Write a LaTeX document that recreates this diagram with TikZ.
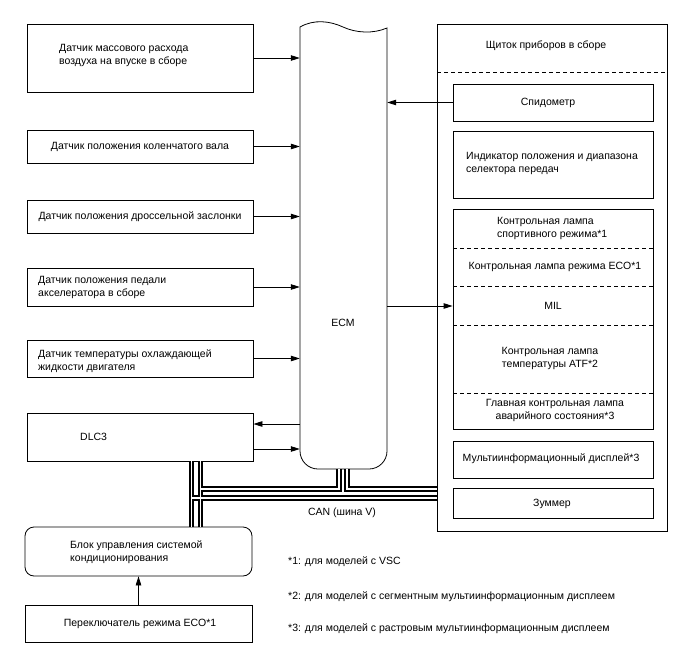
\documentclass[tikz,border=0pt]{standalone}
\usepackage{fontspec}
\setmainfont{Liberation Sans}
\usetikzlibrary{arrows.meta,calc}
\begin{document}
\begin{tikzpicture}[x=1pt,y=-1pt,
  box/.style={draw, line width=0.8pt, inner sep=0pt},
  txt/.style={font=\fontsize{10.5}{13}\selectfont, inner sep=0pt, align=left},
  ctxt/.style={font=\fontsize{10.5}{13}\selectfont, inner sep=0pt, align=center},
  arr/.style={line width=0.8pt, -{Triangle[length=9pt,width=5.5pt]}},
  dsh/.style={line width=0.7pt, dash pattern=on 4pt off 3pt}]
\useasboundingbox[fill=white] (0,0) rectangle (688,658);

% left boxes
\node[box, minimum width=226, minimum height=68] (b1) at (140,58) {};
\node[box, minimum width=226, minimum height=33] (b2) at (140,146.5) {};
\node[box, minimum width=226, minimum height=33] (b3) at (140,216.5) {};
\node[box, minimum width=226, minimum height=38] (b4) at (140,287) {};
\node[box, minimum width=226, minimum height=37] (b5) at (140,358.5) {};
\node[box, minimum width=226, minimum height=48] (dlc) at (140,437) {};
\node[box, rounded corners=9pt, minimum width=227, minimum height=49] (ac) at (138.5,551.5) {};
\node[box, minimum width=227, minimum height=37] (eco) at (138.5,623.5) {};

\node[txt, anchor=west] (t1) at (59,55.5) {Датчик массового расхода\\воздуха на впуске в сборе};
\node[ctxt] (t2) at (140,146.5) {Датчик положения коленчатого вала};
\node[ctxt] (t3) at (140,216.5) {Датчик положения дроссельной заслонки};
\node[txt, anchor=west] (t4) at (38,287.5) {Датчик положения педали\\акселератора в сборе};
\node[txt, anchor=west] (t5) at (38,361.5) {Датчик температуры охлаждающей\\жидкости двигателя};
\node[txt, anchor=west] (t6) at (80,437) {DLC3};
\node[txt, anchor=west] (t7) at (70,552.5) {Блок управления системой\\кондиционирования};
\node[ctxt] (t8) at (140,624) {Переключатель режима ECO*1};

% ECM
\node[inner sep=0pt, minimum width=87, minimum height=447] (ecm) at (343.5,245.5) {};
\draw[line width=0.8pt] (300,27) .. controls (314,19) and (330,21) .. (343,27)
  .. controls (356,33) and (373,34) .. (387,28) -- (387,451)
  arc[start angle=0, end angle=90, radius=18] -- (318,469)
  arc[start angle=90, end angle=180, radius=18] -- cycle;
\node[ctxt] (ecmlbl) at (343,323) {ECM};

% right panel
\node[box, minimum width=230, minimum height=507] (panel) at (552,277.5) {};
\node[ctxt] (title) at (546,46) {Щиток приборов в сборе};
\coordinate (dl) at (437,72);
\coordinate (dr) at (667,72);
\draw[dsh] (dl) -- (dr);

\node[box, minimum width=200, minimum height=37] (spd) at (553,102.5) {};
\node[box, minimum width=200, minimum height=67] (ind) at (553,164.5) {};
\node[box, minimum width=200, minimum height=220] (lamps) at (553,319) {};
\node[box, minimum width=200, minimum height=37] (multi) at (553,459.5) {};
\node[box, minimum width=200, minimum height=30] (buzz) at (553,503) {};

\foreach \yy in {248,286,325,393} \draw[dsh] (453,\yy) -- (653,\yy);

\node[ctxt] (tspd) at (548,102.5) {Спидометр};
\node[txt, anchor=west] (tind) at (466,163.5) {Индикатор положения и диапазона\\селектора передач};
\node[txt, anchor=west] (tsport) at (497,228) {Контрольная лампа\\спортивного режима*1};
\node[ctxt] (teco) at (555,267) {Контрольная лампа режима ECO*1};
\node[ctxt] (mil) at (553,306) {MIL};
\node[ctxt] (tatf) at (550,358.5) {Контрольная лампа\\температуры ATF*2};
\node[ctxt] (tmain) at (555,410) {Главная контрольная лампа\\аварийного состояния*3};
\node[ctxt] (tmulti) at (551,459) {Мультиинформационный дисплей*3};
\node[ctxt] (tbuzz) at (552,504) {Зуммер};

% arrows
\foreach \b in {b1,b2,b3,b4,b5} \draw[arr] (\b.east) -- (\b.east -| ecm.west);
\draw[arr] ($(ecm.west |- dlc.east)+(0,-13)$) -- ($(dlc.east)+(0,-13)$);
\draw[arr] ($(dlc.east)+(0,12)$) -- ($(ecm.west |- dlc.east)+(0,12)$);
\draw[arr] (spd.west) -- (spd.west -| ecm.east);
\draw[arr] (mil -| ecm.east) -- (mil -| lamps.west);
\draw[arr] (eco.north) -- (ac.south);

% CAN bus
\coordinate (e1) at (339,469);
\coordinate (e1b) at (339,489);
\coordinate (e2) at (347,469);
\coordinate (e2b) at (347,489);
\coordinate (u1) at (200.5,489);
\coordinate (u2) at (437,489);
\coordinate (l1) at (191.5,498);
\coordinate (l2) at (437,498);
\coordinate (v1t) at (191.5,461);
\coordinate (v1b) at (191.5,527);
\coordinate (v2t) at (200.5,461);
\coordinate (v2b) at (200.5,527);
\draw[line width=5.5pt] (e1) -- (e1b) -- (u1) (e2) -- (e2b) -- (u2) (l1) -- (l2) (v1t) -- (v1b) (v2t) -- (v2b);
\draw[white, line width=1.6pt] (e1) -- (e1b) -- (u1) (e2) -- (e2b) -- (u2) (l1) -- (l2) (v1t) -- (v1b) (v2t) -- (v2b);
\node[ctxt] (can) at (342,513) {CAN (шина V)};

% footnotes
\node[txt, anchor=west] (f1) at (288,562) {*1: для моделей с VSC};
\node[txt, anchor=west] (f2) at (288,597) {*2: для моделей с сегментным мультиинформационным дисплеем};
\node[txt, anchor=west] (f3) at (288,629) {*3: для моделей с растровым мультиинформационным дисплеем};
\end{tikzpicture}
\end{document}
